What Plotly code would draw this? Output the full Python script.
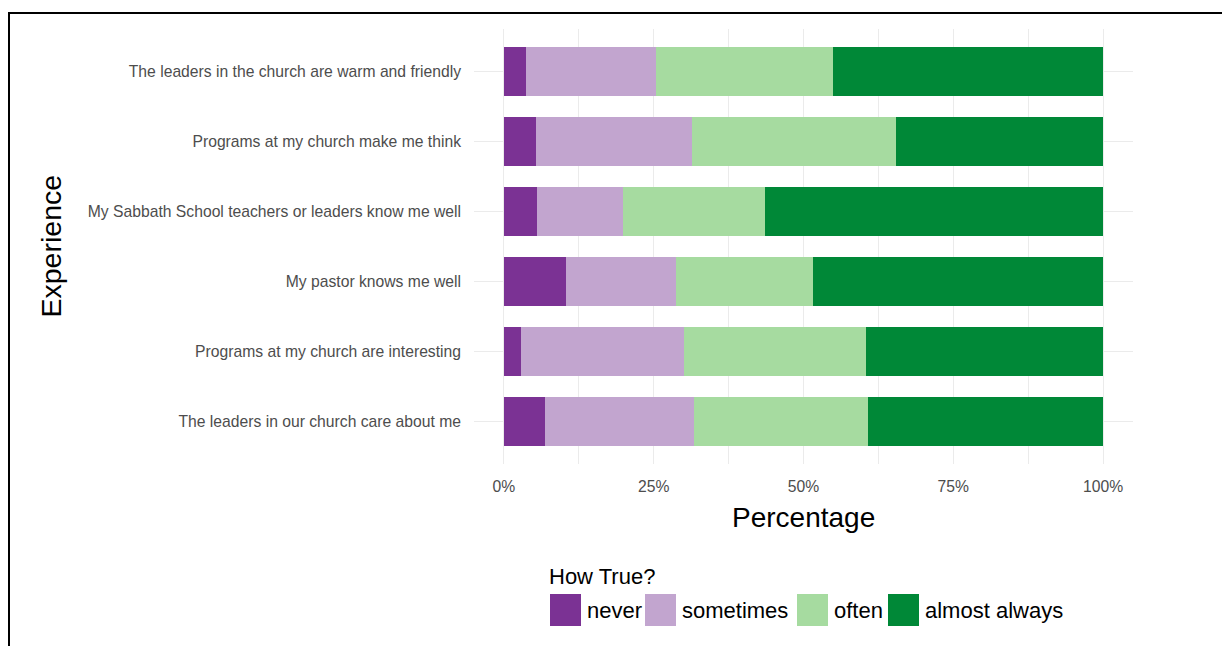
import plotly.graph_objects as go

# ---- data (bottom-to-top order on the y axis) ----
experiences = [
    "The leaders in our church care about me",
    "Programs at my church are interesting",
    "My pastor knows me well",
    "My Sabbath School teachers or leaders know me well",
    "Programs at my church make me think",
    "The leaders in the church are warm and friendly",
]
levels = ["never", "sometimes", "often", "almost always"]
never = [6.9, 2.8, 10.3, 5.5, 5.3, 3.7]
sometimes = [24.8, 27.3, 18.4, 14.4, 26.1, 21.6]
often = [29.1, 30.4, 22.9, 23.7, 34.0, 29.6]
almost_always = [39.2, 39.5, 48.4, 56.4, 34.6, 45.1]
x_tick_vals = [0, 25, 50, 75, 100]
x_tick_text = ["0%", "25%", "50%", "75%", "100%"]

series = [never, sometimes, often, almost_always]
colors = ["#7B3294", "#C2A5CF", "#A6DBA0", "#008837"]

# page has an 8px body margin: figure origin sits at (8, 8) in the screenshot
OFF = 8
W, H = 1230 - OFF, 646 - OFF
# plot panel in screenshot pixels
P_L, P_R, P_T, P_B = 474, 1133, 29, 464
L, T = P_L - OFF, P_T - OFF
R, B = W - (P_R - OFF), H - (P_B - OFF)
PW, PH = W - L - R, H - T - B


def px(x):
    return (x - OFF - L) / PW


def py(y):
    return (H - B - (y - OFF)) / PH


fig = go.Figure()
for name, vals, col in zip(levels, series, colors):
    fig.add_trace(go.Bar(
        y=experiences, x=vals, name=name, orientation="h",
        marker=dict(color=col, line=dict(width=0)),
        showlegend=False,
    ))

grid = "#ebebeb"
font_family = "Liberation Sans, Arial, sans-serif"

fig.update_layout(
    width=W, height=H,
    margin=dict(l=L, r=R, t=T, b=B, pad=0),
    barmode="stack", bargap=0.3,
    paper_bgcolor="white", plot_bgcolor="white",
    font=dict(family=font_family, color="#000000"),
    xaxis=dict(
        range=[-5, 105], tickvals=x_tick_vals, ticktext=x_tick_text,
        showgrid=True, gridcolor=grid, gridwidth=1.2, zeroline=False,
        showline=False, ticks="", tickfont=dict(size=15.7, color="#4d4d4d"),
        ticklabelstandoff=11,
        minor=dict(dtick=12.5, tick0=0, showgrid=True, gridcolor=grid, gridwidth=1),
        fixedrange=True,
    ),
    yaxis=dict(
        categoryorder="array", categoryarray=experiences,
        range=[-0.6, 5.6],
        showgrid=True, gridcolor=grid, gridwidth=1.2, zeroline=False,
        showline=False, ticks="", tickfont=dict(size=15.7, color="#4d4d4d"),
        ticklabelstandoff=12,
    ),
)

annotations = [
    dict(text="Percentage", x=px(803.5), y=py(517), xref="paper", yref="paper",
         showarrow=False, font=dict(size=28, color="black"),
         xanchor="center", yanchor="middle"),
    dict(text="Experience", x=px(50), y=py(246.5), xref="paper", yref="paper",
         showarrow=False, font=dict(size=28.5, color="black"), textangle=-90,
         xanchor="center", yanchor="middle"),
    dict(text="How True?", x=px(547), y=py(576), xref="paper", yref="paper",
         showarrow=False, font=dict(size=22, color="black"),
         xanchor="left", yanchor="middle"),
]

shapes = [
    dict(type="line", xref="paper", yref="paper", x0=px(8), x1=px(1240),
         y0=py(13), y1=py(13), line=dict(color="black", width=2)),
    dict(type="line", xref="paper", yref="paper", x0=px(9), x1=px(9),
         y0=py(12), y1=py(660), line=dict(color="black", width=2)),
]

# legend drawn as keys + labels
key_x = [550, 645, 797, 888]
for lab, col, kx in zip(levels, colors, key_x):
    shapes.append(dict(type="rect", xref="paper", yref="paper",
                       x0=px(kx), x1=px(kx + 31), y0=py(626), y1=py(594),
                       fillcolor=col, line=dict(width=0)))
    annotations.append(dict(text=lab, x=px(kx + 35), y=py(610), xref="paper", yref="paper",
                            showarrow=False, font=dict(size=22, color="black"),
                            xanchor="left", yanchor="middle"))

fig.update_layout(annotations=annotations, shapes=shapes)
fig.write_html("out.html")
